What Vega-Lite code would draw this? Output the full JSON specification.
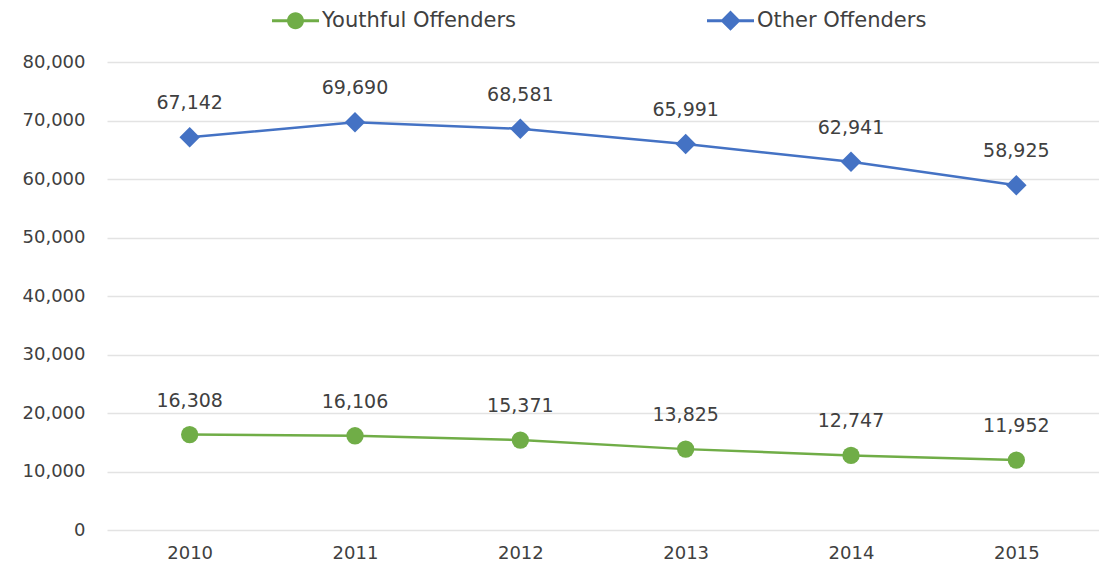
{
  "$schema": "https://vega.github.io/schema/vega-lite/v6.json",
  "width": 992,
  "height": 468,
  "autosize": {"type": "none"},
  "padding": {"left": 107, "top": 62, "right": 0, "bottom": 45},
  "background": "white",
  "config": {
    "font": "DejaVu Sans",
    "view": {"stroke": null},
    "axis": {"labelFont": "DejaVu Sans", "labelColor": "#404040", "labelFontSize": 18}
  },
  "data": {
    "values": [
      {"year": "2010", "series": "Youthful Offenders", "value": 16308},
      {"year": "2011", "series": "Youthful Offenders", "value": 16106},
      {"year": "2012", "series": "Youthful Offenders", "value": 15371},
      {"year": "2013", "series": "Youthful Offenders", "value": 13825},
      {"year": "2014", "series": "Youthful Offenders", "value": 12747},
      {"year": "2015", "series": "Youthful Offenders", "value": 11952},
      {"year": "2010", "series": "Other Offenders", "value": 67142},
      {"year": "2011", "series": "Other Offenders", "value": 69690},
      {"year": "2012", "series": "Other Offenders", "value": 68581},
      {"year": "2013", "series": "Other Offenders", "value": 65991},
      {"year": "2014", "series": "Other Offenders", "value": 62941},
      {"year": "2015", "series": "Other Offenders", "value": 58925}
    ]
  },
  "encoding": {
    "x": {
      "field": "year", "type": "ordinal",
      "scale": {"type": "point", "padding": 0.5},
      "axis": {"title": null, "labelAngle": 0, "ticks": false, "domain": false, "labelPadding": 14, "grid": false}
    },
    "y": {
      "field": "value", "type": "quantitative",
      "scale": {"domain": [0, 80000]},
      "axis": {"title": null, "values": [0,10000,20000,30000,40000,50000,60000,70000,80000], "format": ",d", "ticks": false, "domain": false, "labelPadding": 22, "gridColor": "#e3e3e3", "gridWidth": 1.5}
    }
  },
  "layer": [
    {
      "mark": {"type": "line", "strokeWidth": 2.5},
      "encoding": {
        "color": {
          "field": "series", "type": "nominal",
          "scale": {"domain": ["Youthful Offenders", "Other Offenders"], "range": ["#70AD47", "#4472C4"]}
        }
      }
    },
    {
      "transform": [{"filter": "datum.series === 'Youthful Offenders'"}],
      "mark": {"type": "point", "shape": "circle", "filled": true, "opacity": 1, "size": 300, "color": "#70AD47"}
    },
    {
      "transform": [{"filter": "datum.series === 'Other Offenders'"}],
      "mark": {"type": "point", "shape": "diamond", "filled": true, "opacity": 1, "size": 420, "color": "#4472C4"}
    },
    {
      "mark": {"type": "text", "baseline": "bottom", "dy": -24, "fontSize": 19, "color": "#404040"},
      "encoding": {
        "text": {"field": "value", "type": "quantitative", "format": ",d"}
      }
    },
    {
      "mark": {"type": "point", "filled": true},
      "encoding": {
        "opacity": {"value": 0},
        "color": {
          "field": "series", "type": "nominal",
          "scale": {"domain": ["Youthful Offenders", "Other Offenders"], "range": ["#70AD47", "#4472C4"]},
          "legend": {
            "title": null, "orient": "none", "legendX": 165, "legendY": -65, "direction": "horizontal",
            "symbolOpacity": 1, "symbolSize": 2209, "symbolStrokeWidth": 0,
            "labelFontSize": 21, "labelColor": "#404040", "labelFont": "DejaVu Sans", "labelLimit": 400,
            "columnPadding": 190, "labelOffset": 3
          }
        },
        "shape": {
          "field": "series", "type": "nominal",
          "scale": {"domain": ["Youthful Offenders", "Other Offenders"], "range": [
            "M-1,-0.064H1V0.064H-1Z M-0.36,0A0.36,0.36 0 1,1 0.36,0A0.36,0.36 0 1,1 -0.36,0Z",
            "M-1,-0.064H1V0.064H-1Z M0,-0.43L0.43,0L0,0.43L-0.43,0Z"
          ]},
          "legend": {
            "title": null, "orient": "none", "legendX": 165, "legendY": -65, "direction": "horizontal",
            "symbolOpacity": 1, "symbolSize": 2209, "symbolStrokeWidth": 0,
            "labelFontSize": 21, "labelColor": "#404040", "labelFont": "DejaVu Sans", "labelLimit": 400,
            "columnPadding": 190, "labelOffset": 3
          }
        }
      }
    }
  ]
}
